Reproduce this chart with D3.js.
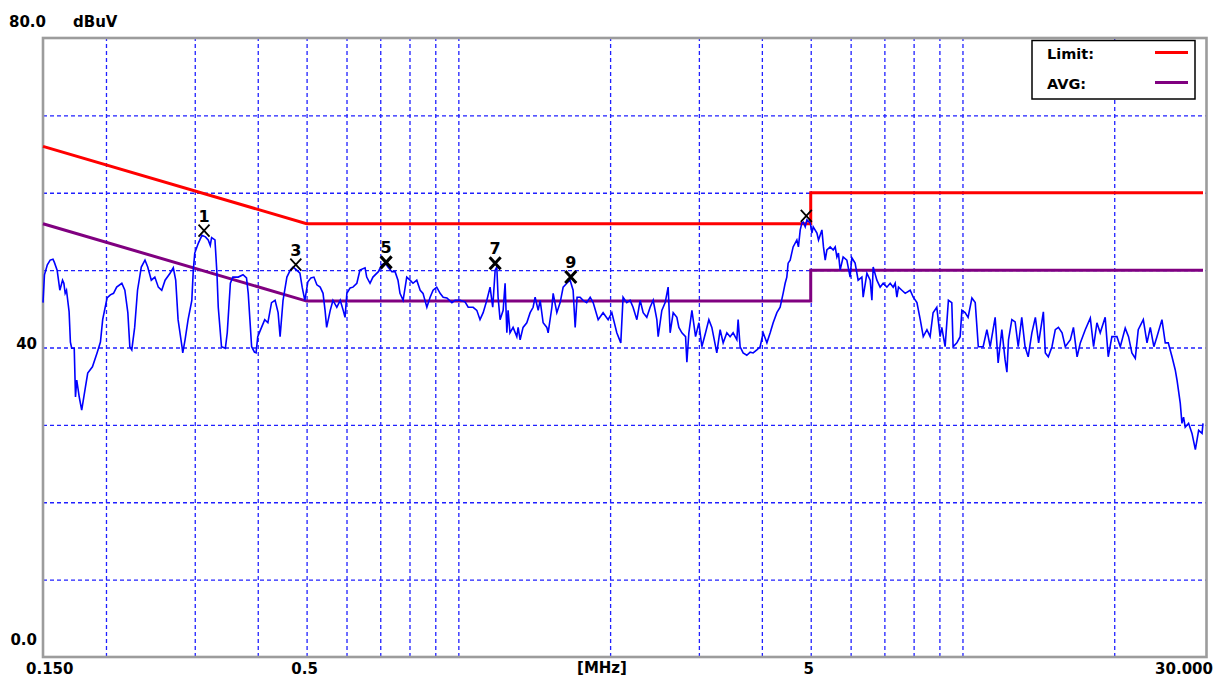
<!DOCTYPE html>
<html><head><meta charset="utf-8">
<script src="https://cdn.jsdelivr.net/npm/d3@7/dist/d3.min.js"></script>
<style>
html,body{margin:0;padding:0;background:#fff;}
svg{display:block;}
text{font-family:"DejaVu Sans",sans-serif;font-weight:bold;fill:#000;}
</style></head><body>
<svg id="chart" width="1222" height="677"></svg>
<script>
// ---------- DATA ----------
const xGridFreqs = [0.2,0.3,0.4,0.5,0.6,0.7,0.8,0.9,1,2,3,4,5,6,7,8,9,10,20];
const yGridLevels = [10,20,30,40,50,60,70];
const xLabelFreqs = [0.15,0.5,5,30];
const xLabelTexts = ["0.150","0.5","5","30.000"];
const yLabelLevels = [80,40,0];
const yLabelTexts = ["80.0","40","0.0"];
const unitY = "dBuV";
const unitX = "[MHz]";

const limitFreqs = [0.15,0.5,5,5,30];
const limitQP    = [66,56,56,60,60];
const limitAVG   = [56,46,46,50,50];

const legendNames = ["Limit:","AVG:"];

const traceFreqs = [
0.150,0.151,0.153,0.155,0.157,0.158,0.160,0.161,0.162,0.164,0.165,0.166,0.167,0.169,0.170,0.171,0.173,0.174,0.175,0.177,
0.179,0.182,0.184,0.188,0.192,0.195,0.197,0.201,0.204,0.207,0.210,0.215,0.218,0.221,0.223,0.225,0.228,0.231,0.235,0.239,
0.242,0.246,0.250,0.254,0.258,0.262,0.268,0.272,0.275,0.278,0.283,0.284,0.287,0.291,0.296,0.298,0.300,0.305,0.310,0.315,
0.319,0.322,0.324,0.329,0.332,0.334,0.339,0.345,0.348,0.353,0.357,0.366,0.374,0.380,0.383,0.389,0.394,0.397,0.400,0.407,
0.413,0.419,0.426,0.433,0.439,0.443,0.449,0.457,0.464,0.470,0.478,0.485,0.490,0.496,0.503,0.510,0.517,0.524,0.532,0.539,
0.544,0.548,0.557,0.564,0.574,0.583,0.591,0.596,0.601,0.610,0.618,0.629,0.638,0.653,0.658,0.668,0.677,0.694,0.705,0.716,
0.725,0.738,0.749,0.759,0.766,0.777,0.790,0.802,0.813,0.827,0.840,0.851,0.866,0.879,0.891,0.906,0.920,0.933,0.949,0.971,
0.985,1.008,1.031,1.046,1.070,1.088,1.104,1.120,1.139,1.156,1.170,1.183,1.192,1.199,1.210,1.227,1.238,1.248,1.255,1.266,
1.284,1.306,1.314,1.326,1.344,1.367,1.388,1.407,1.420,1.440,1.453,1.473,1.498,1.507,1.533,1.542,1.568,1.592,1.614,1.641,
1.666,1.689,1.705,1.720,1.744,1.768,1.797,1.826,1.851,1.894,1.937,1.982,2.016,2.062,2.100,2.122,2.158,2.191,2.221,2.260,
2.294,2.326,2.365,2.401,2.435,2.476,2.491,2.533,2.572,2.607,2.631,2.668,2.713,2.738,2.776,2.823,2.840,2.866,2.906,2.955,
3.000,3.041,3.093,3.140,3.183,3.256,3.306,3.352,3.409,3.460,3.508,3.568,3.589,3.622,3.672,3.734,3.792,3.844,3.909,3.968,
4.024,4.093,4.155,4.212,4.284,4.348,4.408,4.449,4.483,4.510,4.552,4.614,4.693,4.727,4.766,4.803,4.832,4.876,4.914,4.989,
5.028,5.058,5.144,5.181,5.262,5.300,5.342,5.383,5.465,5.541,5.592,5.635,5.675,5.719,5.798,5.897,5.986,6.033,6.124,6.209,
6.316,6.353,6.463,6.560,6.612,6.651,6.764,6.866,6.961,7.080,7.188,7.287,7.354,7.411,7.466,7.582,7.698,7.876,7.986,8.122,
8.246,8.360,8.502,8.626,8.744,8.893,9.029,9.099,9.238,9.378,9.524,9.581,9.747,9.895,9.973,10.12,10.26,10.44,10.60,10.75,
10.99,11.18,11.35,11.61,11.77,11.97,12.15,12.25,12.34,12.53,12.72,12.90,13.11,13.31,13.50,13.73,13.95,14.16,14.47,14.60,
14.80,15.05,15.28,15.50,15.76,15.99,16.37,16.60,16.88,17.13,17.52,17.93,18.20,18.48,18.76,19.19,19.46,19.79,20.25,20.56,
21.03,21.35,21.68,22.02,22.32,22.84,23.23,23.58,23.97,24.31,24.87,25.25,25.60,26.04,26.43,26.64,27.04,27.25,27.45,27.66,
28.09,28.53,28.97,29.41,29.87,30.00
];
const traceLevels = [
45.8,49.4,50.7,51.3,51.4,51.0,50.0,48.7,47.4,48.7,48.3,47.0,47.4,44.6,40.7,39.9,39.9,33.6,35.8,33.6,
31.9,34.8,36.7,37.5,39.3,40.7,43.6,46.4,46.8,47.0,47.8,48.3,47.4,44.5,40.1,39.7,42.6,47.4,50.4,51.3,
50.4,48.7,49.1,47.8,47.4,48.7,49.6,50.3,48.7,43.6,40.1,39.3,41.0,43.6,46.1,50.0,52.2,53.5,54.5,54.3,
53.9,53.2,54.2,53.9,49.6,45.2,40.1,39.9,41.9,48.3,49.1,49.1,49.4,49.0,47.0,40.1,39.4,39.3,41.4,42.6,
43.6,43.2,45.8,46.1,44.5,41.4,46.1,49.1,50.0,50.4,50.0,49.6,47.8,46.1,48.5,49.0,49.1,48.1,47.8,47.0,
44.8,42.6,44.8,46.1,45.2,46.1,44.8,43.9,47.0,47.7,47.8,48.3,50.0,50.3,49.1,48.3,49.1,49.8,50.7,50.9,
50.4,49.8,49.8,48.7,47.0,46.1,49.1,48.7,48.3,48.7,47.4,47.0,45.2,46.5,47.4,47.8,47.0,46.5,46.4,45.8,
46.1,46.1,45.9,45.2,45.2,44.8,43.6,44.5,46.1,47.8,45.2,50.0,50.4,46.5,43.6,44.8,48.3,41.9,44.8,41.9,
42.6,41.4,42.6,41.0,42.6,43.2,44.5,45.2,46.5,44.8,46.1,43.2,42.6,41.9,45.2,47.0,44.5,45.8,47.8,48.3,
48.7,47.4,42.6,46.5,46.5,46.1,45.8,46.5,45.8,43.6,44.5,43.6,44.5,41.9,40.6,46.5,45.8,46.1,45.2,43.6,
46.1,44.5,43.9,45.2,46.1,43.6,41.4,44.8,45.8,47.8,41.9,44.5,43.9,42.6,41.9,41.4,38.1,41.9,44.8,41.4,
43.2,40.1,41.9,43.6,42.6,39.3,42.3,40.6,41.9,41.4,41.9,41.0,43.6,40.1,39.3,39.0,39.4,39.3,39.7,40.1,
41.9,40.6,41.9,43.2,44.5,45.2,47.0,48.3,49.1,50.9,51.3,53.0,53.9,53.0,55.2,56.1,56.2,55.6,56.5,56.1,
54.8,55.6,54.8,53.9,55.2,53.0,51.3,52.6,53.0,52.6,53.0,51.7,52.2,50.0,51.7,51.3,49.1,51.6,50.9,48.7,
49.1,46.5,49.6,48.7,46.1,50.4,48.7,47.8,48.3,47.8,48.3,47.8,48.3,46.5,47.8,47.4,47.0,47.4,46.5,45.8,
43.6,41.4,42.3,41.4,44.5,45.2,41.4,42.6,40.1,46.1,45.8,40.1,40.6,41.4,44.8,44.5,43.9,46.4,45.8,40.1,
40.1,42.3,40.1,43.9,38.0,42.3,38.4,36.8,41.0,43.6,43.3,40.1,43.9,40.1,38.8,41.9,43.9,40.6,44.6,39.3,
38.8,40.1,42.3,42.6,41.9,40.1,41.0,42.6,38.8,40.6,42.3,43.8,40.1,43.2,41.9,43.9,38.8,41.4,41.4,40.1,
42.5,41.4,39.3,38.6,42.3,43.6,40.6,42.6,40.1,41.4,43.6,40.6,40.6,38.8,37.1,35.8,32.8,30.2,31.0,29.7,
30.2,28.9,26.8,29.3,28.9,30.2
];

const markerNums   = ["1","3","5","7","9",""];
const markerFreqs  = [0.313,0.476,0.719,1.183,1.671,4.90];
const markerLevels = [55.1,50.7,51.0,50.9,49.1,57.0];
const markerBold   = [false,false,true,true,true,false];

// ---------- LAYOUT ----------
const L = 43, R = 1203, FR = 1206.5, T = 38, B = 657;
const svg = d3.select("#chart");
svg.append("rect").attr("width",1222).attr("height",677).attr("fill","#fff");

const x = d3.scaleLog().domain([0.15,30]).range([L,R]);
const y = d3.scaleLinear().domain([0,80]).range([B,T]);

// grid via axes
const gridStyle = g => {
  g.select(".domain").remove();
  g.selectAll("text").remove();
  g.selectAll("line").attr("stroke","#2020ff").attr("stroke-width",1.3).attr("stroke-dasharray","4,3");
};
svg.append("g").attr("transform",`translate(0,${B})`)
  .call(d3.axisBottom(x).tickValues(xGridFreqs).tickSize(-(B-T)))
  .call(gridStyle);
svg.append("g").attr("transform",`translate(${L},0)`)
  .call(d3.axisLeft(y).tickValues(yGridLevels).tickSize(-(FR-L)))
  .call(gridStyle);

// frame
svg.append("rect").attr("x",L).attr("y",T).attr("width",FR-L).attr("height",B-T)
  .attr("fill","none").attr("stroke","#9c9c9c").attr("stroke-width",2.6);

// limit lines
const line = d3.line().x(d=>x(d[0])).y(d=>y(d[1]));
svg.append("path").datum(limitFreqs.map((f,i)=>[f,limitAVG[i]]))
  .attr("d",line).attr("fill","none").attr("stroke","#800080").attr("stroke-width",3);
svg.append("path").datum(limitFreqs.map((f,i)=>[f,limitQP[i]]))
  .attr("d",line).attr("fill","none").attr("stroke","#ff0000").attr("stroke-width",3);

// trace
svg.append("path").datum(traceFreqs.map((f,i)=>[f,traceLevels[i]]))
  .attr("d",line).attr("fill","none").attr("stroke","#0000ff").attr("stroke-width",1.6)
  .attr("stroke-linejoin","miter");

// markers
const mk = svg.append("g").selectAll("g").data(markerFreqs.map((f,i)=>({f,v:markerLevels[i],n:markerNums[i],b:markerBold[i]})))
  .join("g").attr("transform",d=>`translate(${x(d.f)},${y(d.v)})`);
mk.append("path").attr("d","M-5.5,-6L5.5,6M-5.5,6L5.5,-6").attr("stroke","#000")
  .attr("stroke-width",d=>d.b?3:1.8).attr("fill","none");
mk.append("text").attr("x",0).attr("y",-9).attr("text-anchor","middle")
  .style("font-size","16px").text(d=>d.n);

// axis labels
const ax = svg.append("g").style("font-size","15px");
yLabelLevels.forEach((v,i)=>{
  const t = ax.append("text").text(yLabelTexts[i]);
  if (v===80) t.attr("x",9).attr("y",27);
  else if (v===0) t.attr("x",37).attr("y",y(v)-12).attr("text-anchor","end");
  else t.attr("x",37).attr("y",y(v)+1).attr("text-anchor","end");
});
ax.append("text").attr("x",73).attr("y",27).text(unitY);
xLabelFreqs.forEach((f,i)=>{
  const t = ax.append("text").attr("y",674).text(xLabelTexts[i]);
  if (i===0) t.attr("x",x(f)-17);
  else if (i===xLabelTexts.length-1) t.attr("x",x(f)+10).attr("text-anchor","end");
  else t.attr("x",x(f)-2).attr("text-anchor","middle");
});
ax.append("text").attr("x",602).attr("y",673).attr("text-anchor","middle").text(unitX);

// legend
const lg = svg.append("g");
lg.append("rect").attr("x",1032).attr("y",40.5).attr("width",163).attr("height",58.5)
  .attr("fill","#fff").attr("stroke","#000").attr("stroke-width",1.5);
const legColors = ["#ff0000","#800080"];
legendNames.forEach((n,i)=>{
  const yy = 59 + i*30;
  lg.append("text").attr("x",1047).attr("y",yy).style("font-size","14.5px").text(n);
  lg.append("line").attr("x1",1155).attr("x2",1188).attr("y1",yy-6.5).attr("y2",yy-6.5)
    .attr("stroke",legColors[i]).attr("stroke-width",3);
});
</script>
</body></html>
